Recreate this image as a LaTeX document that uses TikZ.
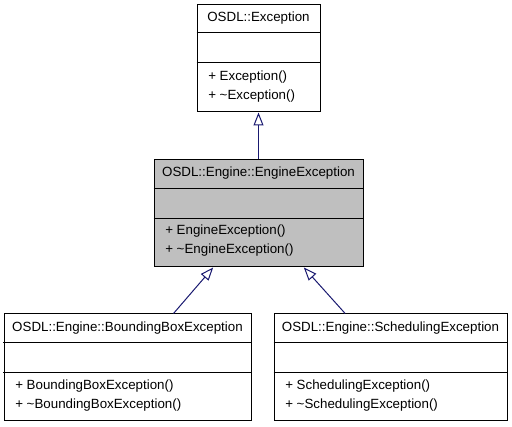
\documentclass[tikz,border=0pt]{standalone}
\usepackage{fontspec}
\setmainfont{Liberation Sans}
\usetikzlibrary{arrows.meta}
\definecolor{edgeblue}{HTML}{191970}
\definecolor{cgrey}{HTML}{BFBFBF}
\tikzset{
  classbox/.style={draw=black, line width=0.75pt, fill=white, inner sep=0pt, minimum height=80.25pt},
  hdr/.style={font=\fontsize{10}{12}\selectfont, inner sep=0pt, anchor=center},
  mem/.style={font=\fontsize{10}{12}\selectfont, inner sep=0pt, anchor=west},
  divider/.style={draw=black, line width=0.75pt},
  inh/.style={draw=edgeblue, line width=0.75pt, -{Triangle[open, length=9.75pt, width=7.5pt, fill=white]}}
}
\begin{document}
\begin{tikzpicture}[x=0.75pt, y=-0.75pt]
\useasboundingbox (0,0) rectangle (512,427);
% top class
\node[classbox, minimum width=92.25pt] (exc) at (258.5,58.5) {};
\draw[divider] ([yshift=-21pt]exc.north west) -- ([yshift=-21pt]exc.north east);
\draw[divider] ([yshift=-43.5pt]exc.north west) -- ([yshift=-43.5pt]exc.north east);
\node[hdr] (exct) at (258.5,18.5) {OSDL::Exception};
\node[mem] (excm1) at (208,77.5) {+ Exception()};
\node[mem] (excm2) at (208,96.5) {+ \textasciitilde Exception()};
% middle class
\node[classbox, fill=cgrey, minimum width=156.75pt] (eng) at (258.5,213.5) {};
\draw[divider] ([yshift=-21.75pt]eng.north west) -- ([yshift=-21.75pt]eng.north east);
\draw[divider] ([yshift=-44.25pt]eng.north west) -- ([yshift=-44.25pt]eng.north east);
\node[hdr] (engt) at (258.5,173.5) {OSDL::Engine::EngineException};
\node[mem] (engm1) at (165,231.5) {+ EngineException()};
\node[mem] (engm2) at (165,250.5) {+ \textasciitilde EngineException()};
% bottom left
\node[classbox, minimum width=185.25pt] (bb) at (127.5,367.5) {};
\draw[divider] ([yshift=-21.75pt]bb.north west) -- ([yshift=-21.75pt]bb.north east);
\draw[divider] ([yshift=-44.25pt]bb.north west) -- ([yshift=-44.25pt]bb.north east);
\node[hdr] (bbt) at (127.5,328) {OSDL::Engine::BoundingBoxException};
\node[mem] (bbm1) at (15,386) {+ BoundingBoxException()};
\node[mem] (bbm2) at (15,405) {+ \textasciitilde BoundingBoxException()};
% bottom right
\node[classbox, minimum width=174.75pt] (sch) at (390.5,367.5) {};
\draw[divider] ([yshift=-21.75pt]sch.north west) -- ([yshift=-21.75pt]sch.north east);
\draw[divider] ([yshift=-44.25pt]sch.north west) -- ([yshift=-44.25pt]sch.north east);
\node[hdr] (scht) at (390.5,328) {OSDL::Engine::SchedulingException};
\node[mem] (schm1) at (285,386) {+ SchedulingException()};
\node[mem] (schm2) at (285,405) {+ \textasciitilde SchedulingException()};
% connectors
\draw[inh] (eng.north) -- (exc.south);
\draw[inh] ([xshift=34.5pt]bb.north) -- ([xshift=-34pt]eng.south);
\draw[inh] ([xshift=-34pt]sch.north) -- ([xshift=34pt]eng.south);
\end{tikzpicture}
\end{document}
